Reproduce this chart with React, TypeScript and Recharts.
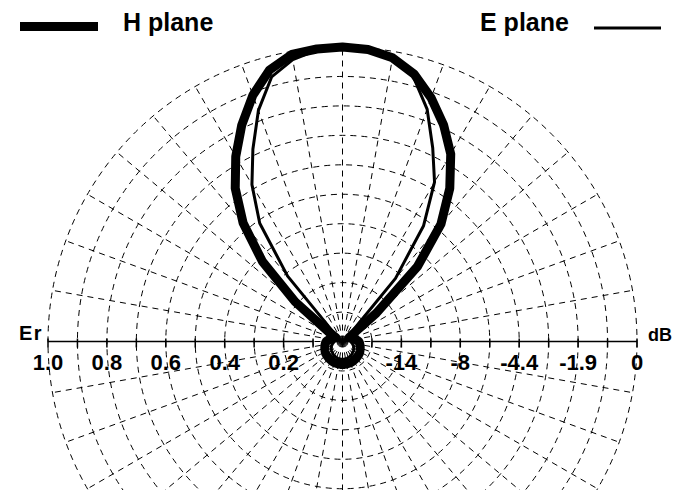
import { RadarChart, Radar, PolarGrid, PolarAngleAxis, PolarRadiusAxis } from "recharts";

// angle from boresight (top), clockwise, degrees
const ANGLES = [
  0, 5, 10, 15, 20, 25, 30, 35, 40, 45, 50, 55, 60, 65, 70, 75, 80, 85,
  90, 95, 100, 105, 110, 115, 120, 125, 130, 135, 140, 145, 150, 155, 160, 165, 170, 175,
  180, 185, 190, 195, 200, 205, 210, 215, 220, 225, 230, 235, 240, 245, 250, 255, 260, 265,
  270, 275, 280, 285, 290, 295, 300, 305, 310, 315, 320, 325, 330, 335, 340, 345, 350, 355,
];

// relative field strength Er, one value per angle
const H_PLANE = [
  1.0, 0.995, 0.978, 0.94, 0.88, 0.812, 0.735, 0.635, 0.52, 0.36, 0.15, 0.04, 0.025, 0.03, 0.035, 0.04, 0.045, 0.05,
  0.055, 0.058, 0.06, 0.062, 0.064, 0.066, 0.068, 0.07, 0.071, 0.072, 0.073, 0.074, 0.075, 0.076, 0.077, 0.077, 0.078, 0.078,
  0.078, 0.078, 0.078, 0.077, 0.077, 0.076, 0.075, 0.074, 0.073, 0.072, 0.071, 0.07, 0.068, 0.066, 0.064, 0.062, 0.06, 0.058,
  0.055, 0.05, 0.045, 0.04, 0.035, 0.03, 0.025, 0.06, 0.21, 0.385, 0.525, 0.635, 0.725, 0.81, 0.89, 0.955, 0.99, 0.997,
];

const E_PLANE = [
  1.0, 0.993, 0.972, 0.93, 0.84, 0.725, 0.625, 0.48, 0.28, 0.035, 0.015, 0.012, 0.012, 0.015, 0.018, 0.02, 0.022, 0.025,
  0.028, 0.03, 0.033, 0.036, 0.039, 0.042, 0.044, 0.046, 0.048, 0.05, 0.052, 0.054, 0.056, 0.057, 0.058, 0.059, 0.06, 0.06,
  0.06, 0.06, 0.06, 0.059, 0.058, 0.057, 0.056, 0.054, 0.052, 0.05, 0.048, 0.046, 0.044, 0.042, 0.039, 0.036, 0.033, 0.03,
  0.028, 0.025, 0.022, 0.02, 0.018, 0.015, 0.012, 0.012, 0.015, 0.04, 0.29, 0.49, 0.615, 0.72, 0.835, 0.93, 0.972, 0.993,
];

const ER_TICKS = [0.1, 0.2, 0.3, 0.4, 0.5, 0.6, 0.7, 0.8, 0.9, 1.0];
const LABELLED_TICKS = [0.2, 0.4, 0.6, 0.8, 1.0];
const ER_LABELS = ["0.2", "0.4", "0.6", "0.8", "1.0"];
const DB_LABELS = ["-14", "-8", "-4.4", "-1.9", "0"];
const SPOKES = [
  0, 10, 20, 30, 40, 50, 60, 70, 80, 90, 100, 110, 120, 130, 140, 150, 160, 170,
  180, 190, 200, 210, 220, 230, 240, 250, 260, 270, 280, 290, 300, 310, 320, 330, 340, 350,
];

const FONT = "'Liberation Sans', Arial, sans-serif";

const data = ANGLES.map((a, i) => ({ angle: a, h: H_PLANE[i], e: E_PLANE[i] }));

function AxisTick(props: any) {
  const { x, y, payload, side } = props;
  const idx = LABELLED_TICKS.findIndex((t) => Math.abs(t - payload.value) < 1e-6);
  const label = idx < 0 ? null : side === "left" ? ER_LABELS[idx] : DB_LABELS[idx];
  return (
    <g>
      <line x1={x} y1={y - 3} x2={x} y2={y + 6} stroke="#000" strokeWidth={1.5} />
      {label && (
        <text x={x} y={y + 28.5} textAnchor="middle" fontFamily={FONT} fontWeight="bold" fontSize={22} fill="#000">
          {label}
        </text>
      )}
      {idx === 4 && side === "left" && (
        <text x={x - 5} y={y - 1.5} textAnchor="end" fontFamily={FONT} fontWeight="bold" fontSize={20} letterSpacing={1.5} fill="#000">
          Er
        </text>
      )}
      {idx === 4 && side === "right" && (
        <text x={x + 11} y={y - 0.5} textAnchor="start" fontFamily={FONT} fontWeight="bold" fontSize={18} fill="#000">
          dB
        </text>
      )}
    </g>
  );
}

export default function App() {
  return (
    <div style={{ position: "absolute", left: 0, top: 0, width: 673, height: 490, background: "#fff", overflow: "hidden" }}>
      <RadarChart
        width={673}
        height={490}
        data={data}
        cx={342.5}
        cy={341.5}
        innerRadius={0}
        outerRadius={294.5}
        margin={{ top: 0, right: 0, bottom: 0, left: 0 }}
      >
        <PolarGrid gridType="circle" polarAngles={SPOKES} stroke="#000" strokeWidth={1} strokeDasharray="6 5" strokeOpacity={1} />
        <PolarAngleAxis dataKey="angle" tick={false} axisLine={false} tickLine={false} />
        <PolarRadiusAxis
          angle={180}
          type="number"
          domain={[0, 1]}
          ticks={ER_TICKS}
          tickCount={11}
          axisLine={{ stroke: "#000", strokeWidth: 1.5 }}
          tick={(p: any) => <AxisTick {...p} side="left" />}
        />
        <PolarRadiusAxis
          radiusAxisId="db"
          angle={0}
          type="number"
          domain={[0, 1]}
          ticks={ER_TICKS}
          tickCount={11}
          axisLine={{ stroke: "#000", strokeWidth: 1.5 }}
          tick={(p: any) => <AxisTick {...p} side="right" />}
        />
        {/* invisible series so the dB axis gets a scale */}
        <Radar
          radiusAxisId="db"
          dataKey="e"
          stroke="none"
          fill="none"
          fillOpacity={0}
          dot={false}
          legendType="none"
          isAnimationActive={false}
        />
        <Radar
          name="E plane"
          dataKey="e"
          stroke="#000"
          strokeWidth={3}
          fill="none"
          fillOpacity={0}
          dot={false}
          strokeLinejoin="round"
          isAnimationActive={false}
        />
        <Radar
          name="H plane"
          dataKey="h"
          stroke="#000"
          strokeWidth={9}
          fill="none"
          fillOpacity={0}
          dot={false}
          strokeLinejoin="round"
          isAnimationActive={false}
        />
      </RadarChart>
      <svg width={673} height={45} style={{ position: "absolute", left: 0, top: 0 }}>
        <line x1={20} y1={26.5} x2={98} y2={26.5} stroke="#000" strokeWidth={9} />
        <text x={123} y={31} fontFamily={FONT} fontWeight="bold" fontSize={25} fill="#000">
          H plane
        </text>
        <text x={480} y={31} fontFamily={FONT} fontWeight="bold" fontSize={25} fill="#000">
          E plane
        </text>
        <line x1={594} y1={28} x2={661} y2={28} stroke="#000" strokeWidth={3} />
      </svg>
    </div>
  );
}
